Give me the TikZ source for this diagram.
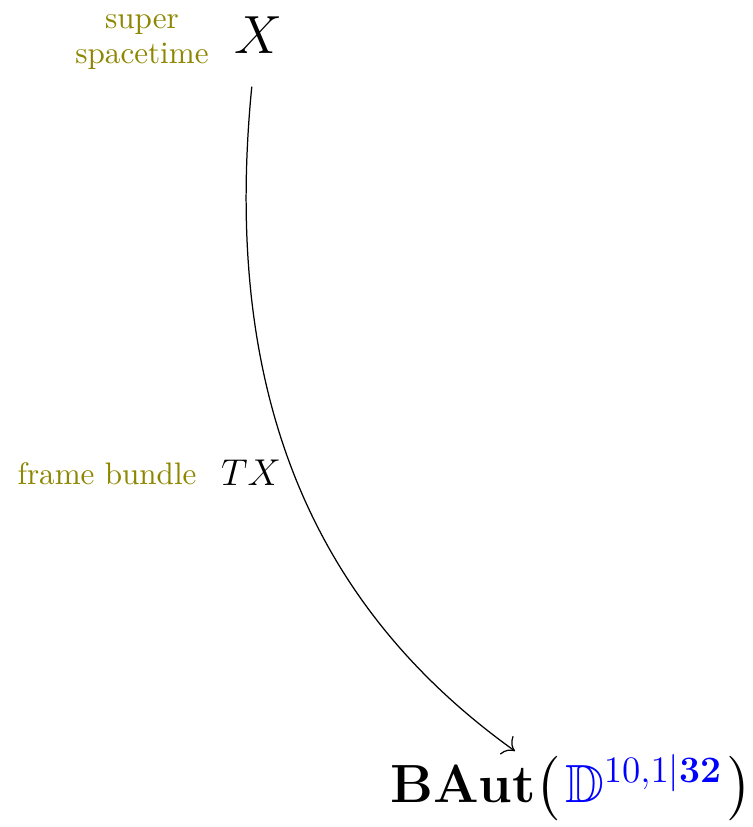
\documentclass[tikz,border=0pt]{standalone}
\usepackage{amsmath,amssymb}
\usetikzlibrary{arrows.meta}
\begin{document}
\begin{tikzpicture}[x=0.3215pt,y=-0.3215pt,
  note/.style={text=olive,align=center,inner sep=1pt},
  obj/.style={inner sep=1pt},
  conn/.style={-{To[scale=1.4]}}]
\useasboundingbox (0,0) rectangle (752,827);
\node[obj,font=\LARGE] (X) at (258,35) {$X$};
\node[note] (sst) at (142,42) {super\\[-1pt]spacetime};
\node[obj] (TX) at (251,473) {\large$TX$};
\node[note] (fb) at (107,474) {frame bundle};
\node[obj,font=\LARGE] (B) at (571,788) {$\mathbf{BAut}\big(\mkern1.5mu\textcolor{blue}{\mathbb{D}^{10,1\vert\mathbf{32}}}\mkern1.5mu\big)$};
\draw[conn] ([xshift=-2pt,yshift=-9.5pt]X.south) .. controls (225,360) and (290,590) .. ([xshift=-18pt,yshift=0pt]B.north);
\end{tikzpicture}
\end{document}
